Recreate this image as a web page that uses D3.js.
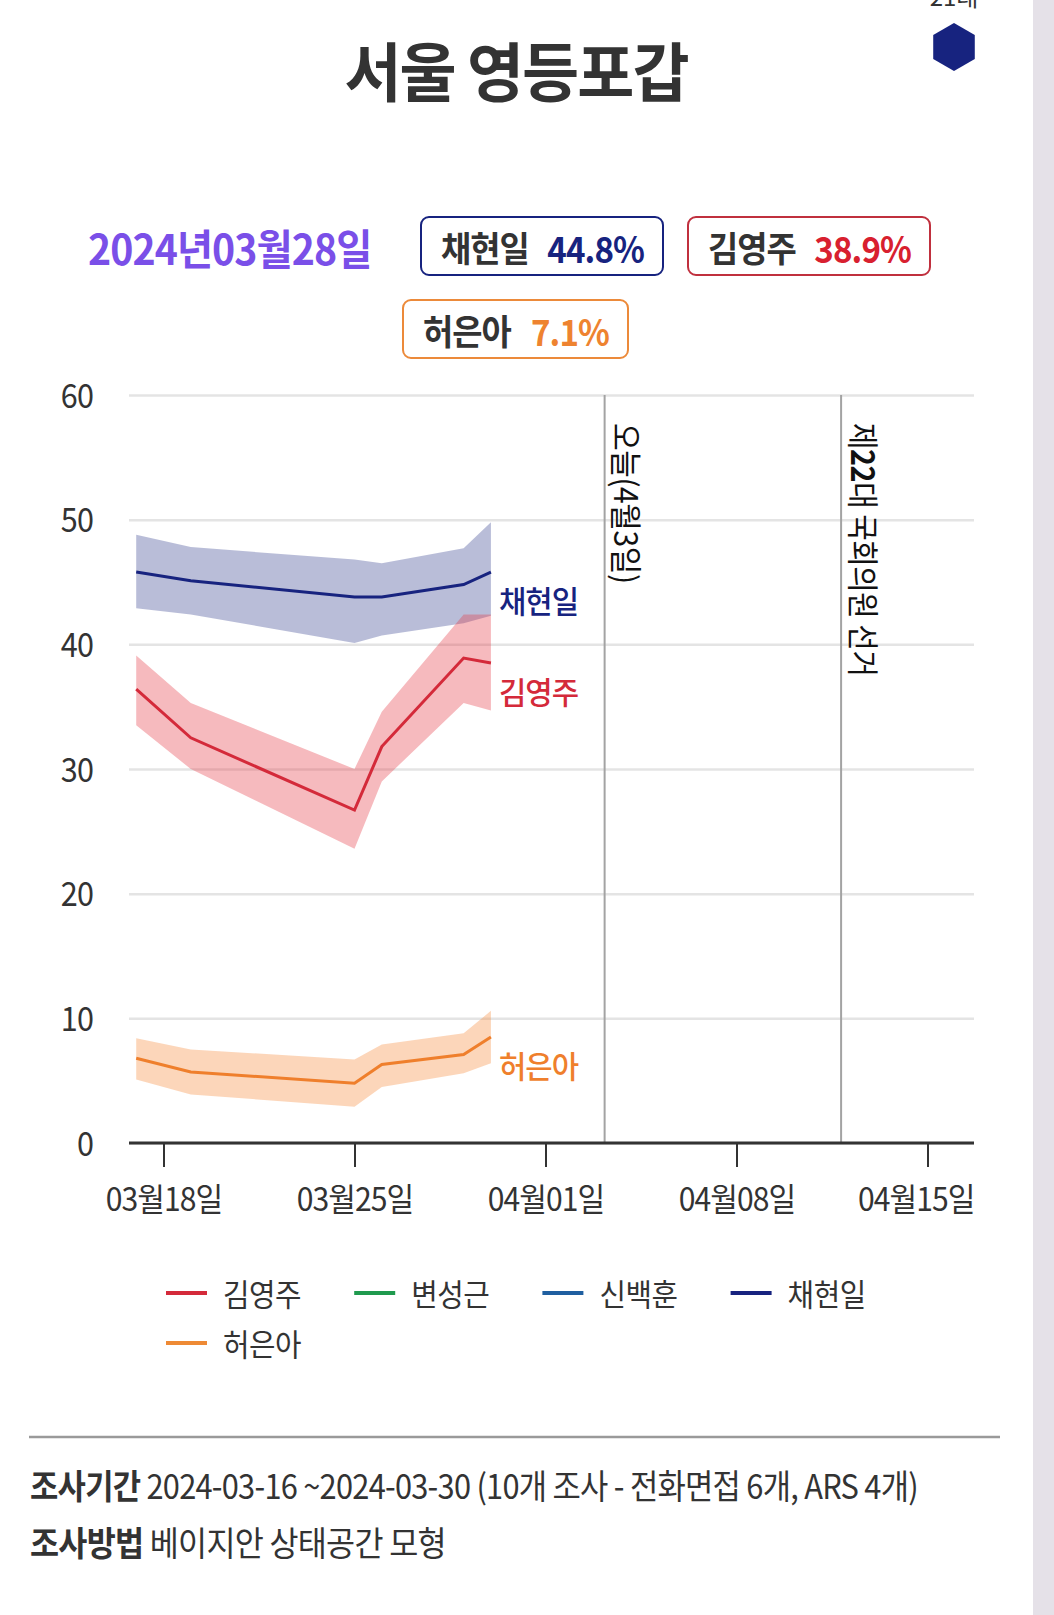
<!DOCTYPE html>
<html>
<head>
<meta charset="utf-8">
<script src="https://cdn.jsdelivr.net/npm/d3@7"></script>
<style>
  body { margin: 0; background: #fff; }
  svg { display: block; font-family: "Noto Sans CJK KR", "Noto Sans", sans-serif; }
</style>
</head>
<body>
<div id="chart"></div>
<script>
// poll dates (x positions)
var pollDates = ["2024-03-17", "2024-03-19", "2024-03-25", "2024-03-26", "2024-03-29", "2024-03-30"];

// 채현일
var chaeMean = [45.8, 45.1, 43.8, 43.8, 44.8, 45.8];
var chaeLow  = [42.9, 42.4, 40.1, 40.7, 41.7, 42.3];
var chaeHigh = [48.8, 47.8, 46.8, 46.5, 47.7, 49.8];
// 김영주
var kimMean = [36.4, 32.5, 26.7, 31.8, 38.9, 38.5];
var kimLow  = [33.5, 30.0, 23.6, 29.0, 35.3, 34.7];
var kimHigh = [39.1, 35.3, 30.0, 34.6, 42.4, 42.4];
// 허은아
var heoMean = [6.8, 5.7, 4.8, 6.3, 7.1, 8.5];
var heoLow  = [5.1, 3.9, 2.9, 4.5, 5.6, 6.4];
var heoHigh = [8.4, 7.5, 6.7, 7.9, 8.8, 10.6];

// axis ticks
var xTickDates = ["2024-03-18", "2024-03-25", "2024-04-01", "2024-04-08", "2024-04-15"];
var yTickValues = [0, 10, 20, 30, 40, 50, 60];

// event markers
var eventDates = ["2024-04-03T04:00", "2024-04-11T20:00"];
var eventLabels = ["오늘(4월3일)", "제22대 국회의원 선거"];

// headline boxes
var summaryDate = "2024년03월28일";
var summaryNames = ["채현일", "김영주", "허은아"];
var summaryValues = [44.8, 38.9, 7.1];

// legend
var legendNames = ["김영주", "변성근", "신백훈", "채현일", "허은아"];
var legendColors = ["#d42a3a", "#1f9a4e", "#1f5fa0", "#17237f", "#ee8a35"];

var parseDate = d3.isoParse;

var w = 1054, h = 1615;
var plotLeft = 129, plotRight = 974;

// squeeze text horizontally (the original font is a narrow one)
function condense(sel, sx) {
  sel.each(function() {
    var t = d3.select(this);
    var x0 = +(t.attr("x") || 0);
    t.attr("x", x0 / sx).attr("transform", "scale(" + sx + ",1)");
  });
}

var svg = d3.select("#chart").append("svg")
  .attr("width", w)
  .attr("height", h);

svg.append("rect").attr("width", w).attr("height", h).attr("fill", "#fff");
// grey strip at right edge
svg.append("rect").attr("x", 1033).attr("y", 0).attr("width", 21).attr("height", h).attr("fill", "#e5e1e8");

// top-right badge
svg.append("text")
  .attr("x", 954).attr("y", 6)
  .attr("text-anchor", "middle")
  .attr("font-size", 24).attr("fill", "#333")
  .text("21대");
var hexR = 24;
svg.append("path")
  .attr("d", d3.line()(d3.range(6).map(function(i) {
    var a = Math.PI / 3 * i - Math.PI / 2;
    return [954 + hexR * Math.cos(a), 47 + hexR * Math.sin(a)];
  })) + "Z")
  .attr("fill", "#17237f");

// title
svg.append("text")
  .attr("x", 516).attr("y", 68)
  .attr("text-anchor", "middle")
  .attr("dominant-baseline", "central")
  .attr("font-size", 64).attr("font-weight", 700)
  .attr("letter-spacing", -2)
  .attr("fill", "#333")
  .text("서울 영등포갑")
  .call(condense, 0.97);

// date
svg.append("text")
  .attr("x", 88).attr("y", 247)
  .attr("dominant-baseline", "central")
  .attr("font-size", 42).attr("font-weight", 700)
  .attr("letter-spacing", -1)
  .attr("fill", "#7a4fe8")
  .text(summaryDate)
  .call(condense, 0.935);

// summary boxes
var boxColors = ["#17237f", "#c0303e", "#ec8a3a"];
var valueColors = ["#17237f", "#d8202f", "#ee8330"];
var boxes = [
  {x: 420, y: 216, w: 244, h: 60},
  {x: 687, y: 216, w: 244, h: 60},
  {x: 402, y: 299, w: 227, h: 60}
];
var boxG = svg.selectAll("g.box")
  .data(summaryNames)
  .enter()
  .append("g")
  .attr("class", "box")
  .attr("transform", function(d, i) { return "translate(" + boxes[i].x + "," + boxes[i].y + ")"; });

boxG.append("rect")
  .attr("x", 1).attr("y", 1)
  .attr("width", function(d, i) { return boxes[i].w - 2; })
  .attr("height", function(d, i) { return boxes[i].h - 2; })
  .attr("rx", 8)
  .attr("fill", "#fff")
  .attr("stroke", function(d, i) { return boxColors[i]; })
  .attr("stroke-width", 2);

boxG.append("text")
  .attr("x", 21).attr("y", 31)
  .attr("dominant-baseline", "central")
  .attr("font-size", 35).attr("font-weight", 700)
  .attr("letter-spacing", -1)
  .attr("fill", "#333")
  .text(function(d) { return d; })
  .call(condense, 0.94);

boxG.append("text")
  .attr("x", function(d, i) { return boxes[i].w - 20; })
  .attr("y", 31)
  .attr("text-anchor", "end")
  .attr("dominant-baseline", "central")
  .attr("font-size", 36).attr("font-weight", 700)
  .attr("letter-spacing", -1)
  .attr("fill", function(d, i) { return valueColors[i]; })
  .text(function(d, i) { return summaryValues[i] + "%"; })
  .call(condense, 0.92);

// scales
var x = d3.scaleTime()
  .domain([parseDate("2024-03-18"), parseDate("2024-04-15")])
  .range([163.5, 927.5]);
var y = d3.scaleLinear()
  .domain([0, 60])
  .range([1143, 395]);

// y grid + labels
var yAxis = svg.append("g")
  .attr("transform", "translate(" + plotLeft + ",0)")
  .call(d3.axisLeft(y).tickValues(yTickValues).tickSize(-(plotRight - plotLeft)).tickPadding(36));
yAxis.select(".domain").remove();
yAxis.selectAll(".tick line").attr("stroke", "#e4e4e4").attr("stroke-width", 2.5);
yAxis.selectAll(".tick text")
  .attr("font-family", "'Noto Sans CJK KR', sans-serif")
  .attr("font-size", 34).attr("letter-spacing", -1)
  .attr("dy", "0.36em")
  .attr("fill", "#333")
  .call(condense, 0.9);

// event lines
var evScale = [0.94, 0.9];
var ev = svg.selectAll("g.event")
  .data(eventDates)
  .enter()
  .append("g")
  .attr("class", "event");
ev.append("line")
  .attr("x1", function(d) { return x(parseDate(d)); })
  .attr("x2", function(d) { return x(parseDate(d)); })
  .attr("y1", y(60)).attr("y2", y(0))
  .attr("stroke", "#a3a3a3").attr("stroke-width", 2);
var evText = ev.append("text")
  .attr("transform", function(d, i) { return "translate(" + (x(parseDate(d)) + 7) + "," + (y(60) + 28) + ") rotate(90) scale(" + evScale[i] + ",1)"; })
  .attr("dominant-baseline", "central")
  .attr("dy", "-0.52em")
  .attr("font-size", 32)
  .attr("letter-spacing", -0.5)
  .attr("fill", "#111");
evText.filter(function(d, i) { return i == 0; }).text(eventLabels[0]);
evText.filter(function(d, i) { return i == 1; })
  .call(function(t) {
    var parts = eventLabels[1].match(/^(\D*)(\d+)(.*)$/);
    t.append("tspan").text(parts[1]);
    t.append("tspan").attr("font-weight", 700).text(parts[2]);
    t.append("tspan").text(parts[3]);
  });

// series table
function buildSeries(mean, low, high) {
  return pollDates.map(function(d, i) {
    return {date: parseDate(d), mean: mean[i], low: low[i], high: high[i]};
  });
}
var series = [
  {name: "채현일", line: "#17237f", band: "#17237f", values: buildSeries(chaeMean, chaeLow, chaeHigh)},
  {name: "김영주", line: "#d42a3a", band: "#e63946", values: buildSeries(kimMean, kimLow, kimHigh)},
  {name: "허은아", line: "#ef7f2c", band: "#f58a3a", values: buildSeries(heoMean, heoLow, heoHigh)}
];

var area = d3.area()
  .x(function(d) { return x(d.date); })
  .y0(function(d) { return y(d.low); })
  .y1(function(d) { return y(d.high); });
var line = d3.line()
  .x(function(d) { return x(d.date); })
  .y(function(d) { return y(d.mean); });

svg.selectAll("path.band")
  .data(series)
  .enter()
  .append("path")
  .attr("class", "band")
  .attr("d", function(d) { return area(d.values); })
  .attr("fill", function(d) { return d.band; })
  .attr("fill-opacity", function(d, i) { return i == 0 ? 0.3 : 0.35; });

svg.selectAll("path.mean")
  .data(series)
  .enter()
  .append("path")
  .attr("class", "mean")
  .attr("d", function(d) { return line(d.values); })
  .attr("fill", "none")
  .attr("stroke", function(d) { return d.line; })
  .attr("stroke-width", 3);

// end labels
svg.selectAll("text.endlabel")
  .data(series)
  .enter()
  .append("text")
  .attr("class", "endlabel")
  .attr("x", function(d) { var last = d.values[d.values.length - 1]; return x(last.date) + 8; })
  .attr("y", function(d) { var last = d.values[d.values.length - 1]; return y(last.mean) + 28; })
  .attr("dominant-baseline", "central")
  .attr("font-size", 31).attr("font-weight", 500)
  .attr("letter-spacing", -1)
  .attr("fill", function(d) { return d.line; })
  .text(function(d) { return d.name; })
  .call(condense, 0.96);

// x axis
var xAxis = svg.append("g")
  .attr("transform", "translate(0," + y(0) + ")")
  .call(d3.axisBottom(x)
    .tickValues(xTickDates.map(parseDate))
    .tickFormat(d3.timeFormat("%m월%d일"))
    .tickSize(24)
    .tickPadding(21));
xAxis.select(".domain").remove();
xAxis.selectAll(".tick line").attr("stroke", "#333").attr("stroke-width", 2);
xAxis.selectAll(".tick text")
  .attr("font-family", "'Noto Sans CJK KR', sans-serif")
  .attr("font-size", 32).attr("letter-spacing", -1)
  .attr("fill", "#333")
  .call(condense, 0.94);
// keep the last label inside the plot
xAxis.selectAll(".tick text")
  .filter(function(d, i, n) { return i == n.length - 1; })
  .attr("text-anchor", "end")
  .attr("x", function(d) { return (plotRight - x(d)) / 0.94; });
xAxis.append("line")
  .attr("x1", plotLeft).attr("x2", plotRight)
  .attr("stroke", "#333").attr("stroke-width", 3);

// legend
var leg = svg.selectAll("g.legend")
  .data(legendNames)
  .enter()
  .append("g")
  .attr("class", "legend")
  .attr("transform", function(d, i) {
    return "translate(" + (166 + (i % 4) * 188.2) + "," + (1293 + Math.floor(i / 4) * 50) + ")";
  });
leg.append("line")
  .attr("x1", 0).attr("x2", 41)
  .attr("stroke", function(d, i) { return legendColors[i]; })
  .attr("stroke-width", 4);
leg.append("text")
  .attr("x", 57)
  .attr("dominant-baseline", "central")
  .attr("font-size", 31).attr("letter-spacing", -0.5)
  .attr("fill", "#333")
  .text(function(d) { return d; })
  .call(condense, 0.93);

// footer
svg.append("line")
  .attr("x1", 29).attr("x2", 1000)
  .attr("y1", 1437).attr("y2", 1437)
  .attr("stroke", "#9a9a9a").attr("stroke-width", 2.5);

var foot1 = svg.append("text")
  .attr("x", 30).attr("y", 1483)
  .attr("dominant-baseline", "central")
  .attr("font-size", 34).attr("letter-spacing", -0.8)
  .attr("fill", "#333");
foot1.append("tspan").attr("font-weight", 700).text("조사기간");
foot1.append("tspan").text(" 2024-03-16 ~2024-03-30 (10개 조사 - 전화면접 6개, ARS 4개)");
foot1.call(condense, 0.905);

var foot2 = svg.append("text")
  .attr("x", 30).attr("y", 1540)
  .attr("dominant-baseline", "central")
  .attr("font-size", 34).attr("letter-spacing", -0.8)
  .attr("fill", "#333");
foot2.append("tspan").attr("font-weight", 700).text("조사방법");
foot2.append("tspan").text(" 베이지안 상태공간 모형");
foot2.call(condense, 0.93);
</script>
</body>
</html>
